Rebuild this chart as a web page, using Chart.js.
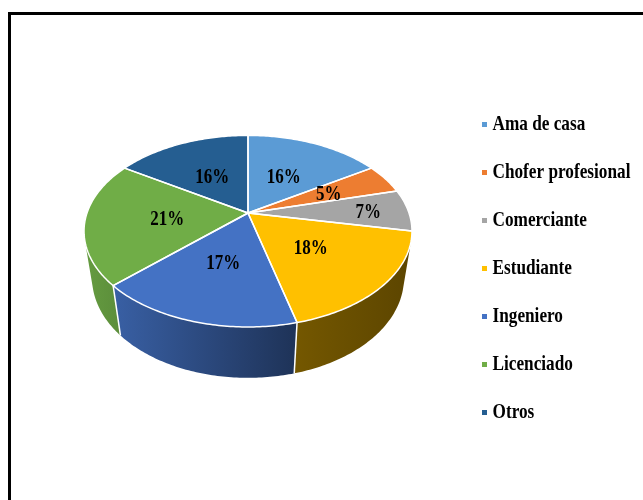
<!DOCTYPE html>
<html>
<head>
<meta charset="utf-8">
<script src="https://cdn.jsdelivr.net/npm/chart.js@4.4.1/dist/chart.umd.min.js"></script>
<style>
  html, body { margin: 0; padding: 0; background: #fff; }
  #wrap { position: relative; width: 643px; height: 500px; overflow: hidden; }
  #frame { position: absolute; left: 8px; top: 12px; width: 700px; height: 600px;
           border: 3px solid #000; box-sizing: border-box; }
  #c { position: absolute; left: 0; top: 0; }
</style>
</head>
<body>
<div id="wrap">
  <div id="frame"></div>
  <canvas id="c" width="643" height="500"></canvas>
</div>
<script>
// Ocupación de los encuestados (%)
const categories = ['Ama de casa', 'Chofer profesional', 'Comerciante', 'Estudiante',
                    'Ingeniero', 'Licenciado', 'Otros'];
const percentages = [16, 5, 7, 18, 17, 21, 16];
const sliceColors = ['#5B9BD5', '#ED7D31', '#A5A5A5', '#FFC000', '#4472C4', '#70AD47', '#255E91'];

// 3D view of the pie: tilt, camera distance and thickness (in radius units)
const TILT = 35 * Math.PI / 180;
const SIN = Math.sin(TILT), COS = Math.cos(TILT);
const CAM = 4.32;
const THICK = 0.375;

function shade(hex, f) {
  const n = parseInt(hex.slice(1), 16);
  const r = Math.round(((n >> 16) & 255) * f);
  const g = Math.round(((n >> 8) & 255) * f);
  const b = Math.round((n & 255) * f);
  return `rgb(${r},${g},${b})`;
}

function drawScaledText(ctx, text, x, y, sx) {
  ctx.save();
  ctx.translate(x, y);
  ctx.scale(sx, 1);
  ctx.fillText(text, 0, 0);
  ctx.restore();
}

// radial position of a label: narrow slices push their label outwards
function labelRadius(v) {
  if (v < 6) return 0.57;
  if (v < 10) return 0.75;
  return 0.5;
}

const pie3d = {
  id: 'pie3d',
  beforeDatasetsDraw(chart) {
    const ctx = chart.ctx;
    const arcs = chart.getDatasetMeta(0).data;
    if (!arcs.length) return false;
    const cx = arcs[0].x, cy = arcs[0].y, R0 = arcs[0].outerRadius;
    const F = R0 * CAM;
    const proj = (x, z, h) => {
      const D = CAM - z * COS + h * SIN;
      return [cx + F * x / D, cy + F * (z * SIN + h * COS) / D];
    };
    const ring = (a, b, r, h) => {
      const n = Math.max(6, Math.ceil(Math.abs(b - a) / 0.015));
      const pts = [];
      for (let i = 0; i <= n; i++) {
        const t = a + (b - a) * i / n;
        pts.push(proj(r * Math.cos(t), r * Math.sin(t), h));
      }
      return pts;
    };
    const colors = chart.data.datasets[0].backgroundColor;

    // Outer walls: only the part that faces the viewer
    const k = 1 / (CAM * COS);
    const f0 = Math.asin(k), f1 = Math.PI - Math.asin(k);
    const gx0 = cx - 1.02 * R0, gx1 = cx + 1.02 * R0;
    arcs.forEach((arc, i) => {
      const a = Math.max(arc.startAngle, f0), b = Math.min(arc.endAngle, f1);
      if (b <= a) return;
      const top = ring(a, b, 1, 0);
      const bot = ring(b, a, 1, THICK);
      const g = ctx.createLinearGradient(gx0, 0, gx1, 0);
      g.addColorStop(0, shade(colors[i], 0.9));
      g.addColorStop(0.085, shade(colors[i], 0.84));
      g.addColorStop(0.63, shade(colors[i], 0.46));
      g.addColorStop(1, shade(colors[i], 0.36));
      ctx.beginPath();
      top.concat(bot).forEach((p, j) => j ? ctx.lineTo(p[0], p[1]) : ctx.moveTo(p[0], p[1]));
      ctx.closePath();
      ctx.fillStyle = g;
      ctx.fill();
    });
    // white seams between walls
    ctx.strokeStyle = '#fff';
    ctx.lineWidth = 1.5;
    arcs.forEach(arc => {
      const t = arc.startAngle;
      if (t > f0 && t < f1) {
        const p = proj(Math.cos(t), Math.sin(t), 0), q = proj(Math.cos(t), Math.sin(t), THICK);
        ctx.beginPath(); ctx.moveTo(p[0], p[1]); ctx.lineTo(q[0], q[1]); ctx.stroke();
      }
    });

    // Top faces
    const faces = arcs.map(arc => [proj(0, 0, 0)].concat(ring(arc.startAngle, arc.endAngle, 1, 0)));
    faces.forEach((pts, i) => {
      ctx.beginPath();
      pts.forEach((p, j) => j ? ctx.lineTo(p[0], p[1]) : ctx.moveTo(p[0], p[1]));
      ctx.closePath();
      ctx.fillStyle = colors[i];
      ctx.fill();
    });
    ctx.lineJoin = 'round';
    faces.forEach(pts => {
      ctx.beginPath();
      pts.forEach((p, j) => j ? ctx.lineTo(p[0], p[1]) : ctx.moveTo(p[0], p[1]));
      ctx.closePath();
      ctx.stroke();
    });

    // Percentage labels
    const values = chart.data.datasets[0].data;
    ctx.fillStyle = '#000';
    ctx.font = 'bold 20px "Liberation Serif", "Times New Roman", serif';
    ctx.textAlign = 'center';
    ctx.textBaseline = 'middle';
    arcs.forEach((arc, i) => {
      const m = (arc.startAngle + arc.endAngle) / 2;
      const r = labelRadius(values[i]);
      const p = proj(r * Math.cos(m), r * Math.sin(m), 0);
      drawScaledText(ctx, values[i] + '%', p[0], p[1] + 2, 0.85);
    });
    return false;
  },
  afterDraw(chart) {
    // Legend on the right
    const ctx = chart.ctx;
    const colors = chart.data.datasets[0].backgroundColor;
    ctx.save();
    ctx.font = 'bold 21px "Liberation Serif", "Times New Roman", serif';
    ctx.textAlign = 'left';
    ctx.textBaseline = 'alphabetic';
    chart.data.labels.forEach((label, i) => {
      const y = 130 + 48 * i;
      ctx.fillStyle = colors[i];
      ctx.fillRect(482, y - 8, 5, 5);
      ctx.fillStyle = '#000';
      drawScaledText(ctx, label, 492.5, y, 0.82);
    });
    ctx.restore();
  }
};

new Chart(document.getElementById('c'), {
  type: 'pie',
  data: {
    labels: categories,
    datasets: [{
      data: percentages,
      backgroundColor: sliceColors,
      borderWidth: 0,
      hoverOffset: 0
    }]
  },
  options: {
    responsive: false,
    animation: false,
    devicePixelRatio: 1,
    layout: { padding: { left: 87, right: 234, top: 52, bottom: 126 } },
    plugins: {
      legend: { display: false },
      tooltip: { enabled: false }
    }
  },
  plugins: [pie3d]
});
</script>
</body>
</html>
